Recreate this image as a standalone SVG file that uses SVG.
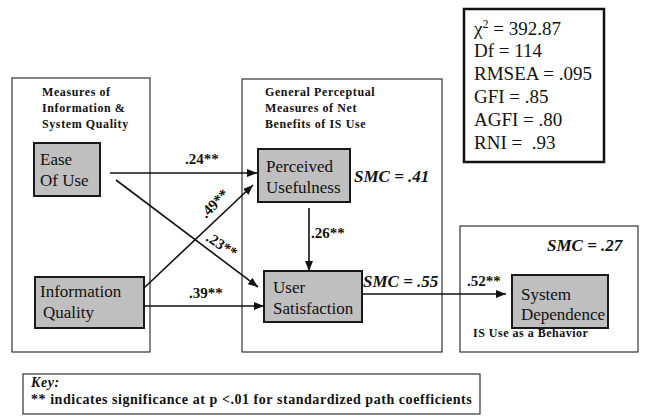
<svg xmlns="http://www.w3.org/2000/svg" width="645" height="416" viewBox="0 0 645 416" font-family="Liberation Serif, Times New Roman, serif">
<defs>
<style>
.cont{fill:none;stroke:#333;stroke-width:1.2}
.node{fill:#bfbfbf;stroke:#1a1a1a;stroke-width:2}
.conn{stroke:#111;stroke-width:1.6;fill:none}
</style>
<marker id="ah" viewBox="0 0 10 8" refX="10" refY="4" markerWidth="10" markerHeight="8" markerUnits="userSpaceOnUse" orient="auto">
<path d="M0,0 L10,4 L0,8 Z" fill="#111"/>
</marker>
</defs>
<rect width="645" height="416" fill="#fff"/>

<g id="containers">
<rect class="cont" x="12" y="78" width="138" height="274"/>
<rect class="cont" x="242" y="79" width="200" height="273"/>
<rect class="cont" x="460" y="226" width="178" height="126"/>
</g>

<g id="hdr-left" font-family="Liberation Serif, serif" font-weight="bold" font-size="12" letter-spacing="0.6" fill="#111">
<text x="42" y="96">Measures of</text>
<text x="42" y="112">Information &amp;</text>
<text x="42" y="128">System Quality</text>
</g>
<g id="hdr-mid" font-family="Liberation Serif, serif" font-weight="bold" font-size="12" letter-spacing="0.6" fill="#111">
<text x="265" y="96">General Perceptual</text>
<text x="265" y="112">Measures of Net</text>
<text x="265" y="128">Benefits of IS Use</text>
</g>
<g id="hdr-right" font-family="Liberation Serif, serif" font-weight="bold" font-size="12" letter-spacing="0.5" fill="#111">
<text x="473" y="337">IS Use as a Behavior</text>
</g>

<g id="stats" font-family="Liberation Serif, serif" font-size="19" fill="#111">
<rect x="464" y="9" width="140" height="153" fill="#fff" stroke="#111" stroke-width="2.5"/>
<text x="474" y="35">χ<tspan font-size="12" dy="-7">2</tspan><tspan dy="7"> = 392.87</tspan></text>
<text x="474" y="57">Df = 114</text>
<text x="474" y="80">RMSEA = .095</text>
<text x="474" y="103">GFI = .85</text>
<text x="474" y="126">AGFI = .80</text>
<text x="474" y="149" xml:space="preserve">RNI =  .93</text>
</g>

<g id="ease" font-family="Liberation Serif, serif" font-size="17" fill="#111">
<rect class="node" x="34" y="143" width="66" height="53"/>
<text x="40" y="165">Ease</text>
<text x="40" y="186">Of Use</text>
</g>
<g id="infoq" font-family="Liberation Serif, serif" font-size="17" fill="#111">
<rect class="node" x="35" y="277" width="109" height="51"/>
<text x="40" y="297">Information</text>
<text x="43" y="318">Quality</text>
</g>
<g id="pu" font-family="Liberation Serif, serif" font-size="17" fill="#111">
<rect class="node" x="258" y="149" width="92" height="53"/>
<text x="266" y="172">Perceived</text>
<text x="266" y="193">Usefulness</text>
</g>
<g id="us" font-family="Liberation Serif, serif" font-size="17" fill="#111">
<rect class="node" x="264" y="271" width="98" height="51"/>
<text x="273" y="293">User</text>
<text x="273" y="314">Satisfaction</text>
</g>
<g id="sd" font-family="Liberation Serif, serif" font-size="17" fill="#111">
<rect class="node" x="512" y="275" width="96" height="53"/>
<text x="521" y="300">System</text>
<text x="521" y="320">Dependence</text>
</g>

<g id="connectors">
<line class="conn" x1="110" y1="173" x2="257" y2="173" marker-end="url(#ah)"/>
<line class="conn" x1="116" y1="180" x2="258" y2="287" marker-end="url(#ah)"/>
<line class="conn" x1="144" y1="288" x2="253" y2="185" marker-end="url(#ah)"/>
<line class="conn" x1="144" y1="306" x2="264" y2="306" marker-end="url(#ah)"/>
<line class="conn" x1="309" y1="208" x2="309" y2="271" marker-end="url(#ah)"/>
<line class="conn" x1="362" y1="294" x2="506" y2="294" marker-end="url(#ah)"/>
</g>

<g id="labels" font-family="Liberation Serif, serif" font-weight="bold" font-size="15" fill="#111">
<text x="185" y="164">.24**</text>
<text transform="translate(206,219) rotate(-45)">.49**</text>
<text transform="translate(205,240) rotate(33)">.23**</text>
<text x="189" y="298">.39**</text>
<text x="311" y="238">.26**</text>
<text x="467" y="286">.52**</text>
<text x="354" y="182" font-style="italic" font-size="17">SMC = .41</text>
<text x="363" y="287" font-style="italic" font-size="17">SMC = .55</text>
<text x="547" y="251" font-style="italic" font-size="17">SMC = .27</text>
</g>

<g id="key" font-family="Liberation Serif, serif" font-weight="bold" font-size="14" letter-spacing="0.55" fill="#111">
<rect x="23" y="374" width="457" height="40" fill="#fff" stroke="#333" stroke-width="1.2"/>
<text x="31" y="387" font-style="italic">Key:</text>
<text x="31" y="404">** indicates significance at p &lt;.01 for standardized path coefficients</text>
</g>
</svg>
